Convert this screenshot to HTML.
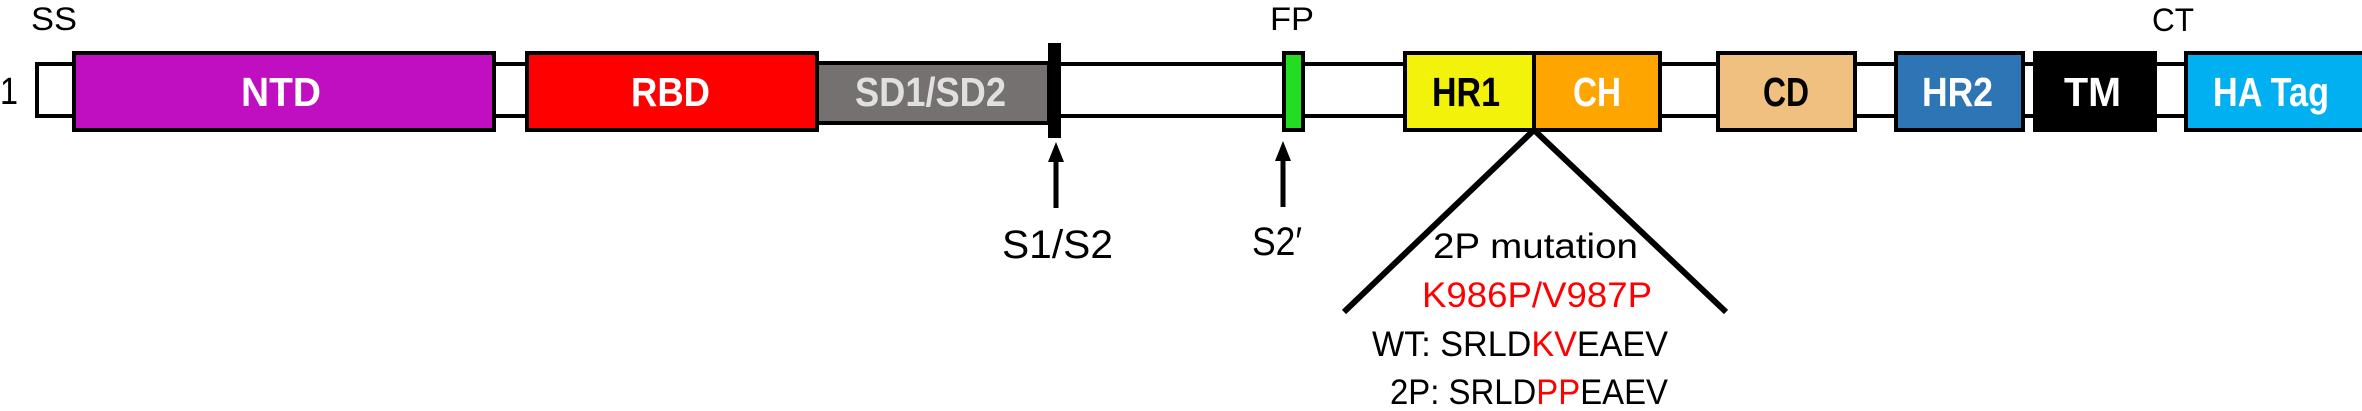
<!DOCTYPE html>
<html><head><meta charset="utf-8"><style>
html,body{margin:0;padding:0;background:#fff;}
svg{display:block;}
text{font-family:"Liberation Sans",sans-serif;}
</style></head><body>
<svg width="2362" height="411" viewBox="0 0 2362 411" xmlns="http://www.w3.org/2000/svg">
<rect x="37" y="64" width="2330" height="52" fill="#fff" stroke="#000" stroke-width="4"/>
<rect x="74" y="53" width="420" height="77" fill="#c00fc0" stroke="#000" stroke-width="4"/>
<rect x="527" y="53" width="290" height="77" fill="#ff0000" stroke="#000" stroke-width="4"/>
<rect x="817" y="63" width="232" height="60" fill="#767171" stroke="#000" stroke-width="4"/>
<rect x="1048" y="43" width="13" height="95" fill="#000"/>
<rect x="1284" y="53" width="19" height="77" fill="#22dd22" stroke="#000" stroke-width="4"/>
<rect x="1405" y="53" width="129" height="77" fill="#f2f20a" stroke="#000" stroke-width="4"/>
<rect x="1534" y="53" width="126" height="77" fill="#ffa500" stroke="#000" stroke-width="4"/>
<rect x="1718" y="53" width="137" height="77" fill="#f0c080" stroke="#000" stroke-width="4"/>
<rect x="1896" y="53" width="127" height="77" fill="#2e75b6" stroke="#000" stroke-width="4"/>
<rect x="2035" y="53" width="120" height="77" fill="#000" stroke="#000" stroke-width="4"/>
<rect x="2186" y="53" width="180" height="77" fill="#00b0f0" stroke="#000" stroke-width="4"/>
<g font-weight="bold" font-size="41">
<text x="241" y="106" textLength="80" lengthAdjust="spacingAndGlyphs" fill="#fff">NTD</text>
<text x="631" y="106" textLength="79" lengthAdjust="spacingAndGlyphs" fill="#fff">RBD</text>
<text x="855" y="106" textLength="151" lengthAdjust="spacingAndGlyphs" fill="#e0e0e0">SD1/SD2</text>
<text x="1432" y="106" textLength="68" lengthAdjust="spacingAndGlyphs" fill="#000">HR1</text>
<text x="1573" y="106" textLength="48" lengthAdjust="spacingAndGlyphs" fill="#fff">CH</text>
<text x="1763" y="106" textLength="46" lengthAdjust="spacingAndGlyphs" fill="#000">CD</text>
<text x="1922" y="106" textLength="71" lengthAdjust="spacingAndGlyphs" fill="#fff">HR2</text>
<text x="2064" y="106" textLength="57" lengthAdjust="spacingAndGlyphs" fill="#fff">TM</text>
<text x="2213" y="106" textLength="116" lengthAdjust="spacingAndGlyphs" fill="#fff">HA Tag</text>
</g>
<g font-size="32" fill="#000">
<text x="31" y="30" textLength="46" lengthAdjust="spacingAndGlyphs">SS</text>
<text x="1270" y="30" textLength="44" lengthAdjust="spacingAndGlyphs">FP</text>
<text x="2152" y="31" textLength="42" lengthAdjust="spacingAndGlyphs">CT</text>
<text x="0" y="104" textLength="18" lengthAdjust="spacingAndGlyphs" font-size="38">1</text>
<text x="1002" y="258" textLength="111" lengthAdjust="spacingAndGlyphs" font-size="40">S1/S2</text>
<text x="1252" y="255" textLength="50" lengthAdjust="spacingAndGlyphs" font-size="40">S2′</text>
</g>
<line x1="1056" y1="208" x2="1056" y2="155" stroke="#000" stroke-width="5"/>
<polygon points="1056,142 1048,162 1064,162" fill="#000"/>
<line x1="1283" y1="207" x2="1283" y2="155" stroke="#000" stroke-width="5"/>
<polygon points="1283,141 1275,161 1291,161" fill="#000"/>
<polyline points="1344,312 1534,130 1726,312" fill="none" stroke="#000" stroke-width="6"/>
<g font-size="35">
<text x="1433" y="258" textLength="205" lengthAdjust="spacingAndGlyphs" fill="#000">2P mutation</text>
<text x="1422" y="307" textLength="230" lengthAdjust="spacingAndGlyphs" fill="#ff0000">K986P/V987P</text>
<text x="1372" y="356" textLength="296" lengthAdjust="spacingAndGlyphs" fill="#000">WT: SRLD<tspan fill="#ff0000">KV</tspan>EAEV</text>
<text x="1390" y="404" textLength="278" lengthAdjust="spacingAndGlyphs" fill="#000">2P: SRLD<tspan fill="#ff0000">PP</tspan>EAEV</text>
</g>
</svg>
</body></html>
